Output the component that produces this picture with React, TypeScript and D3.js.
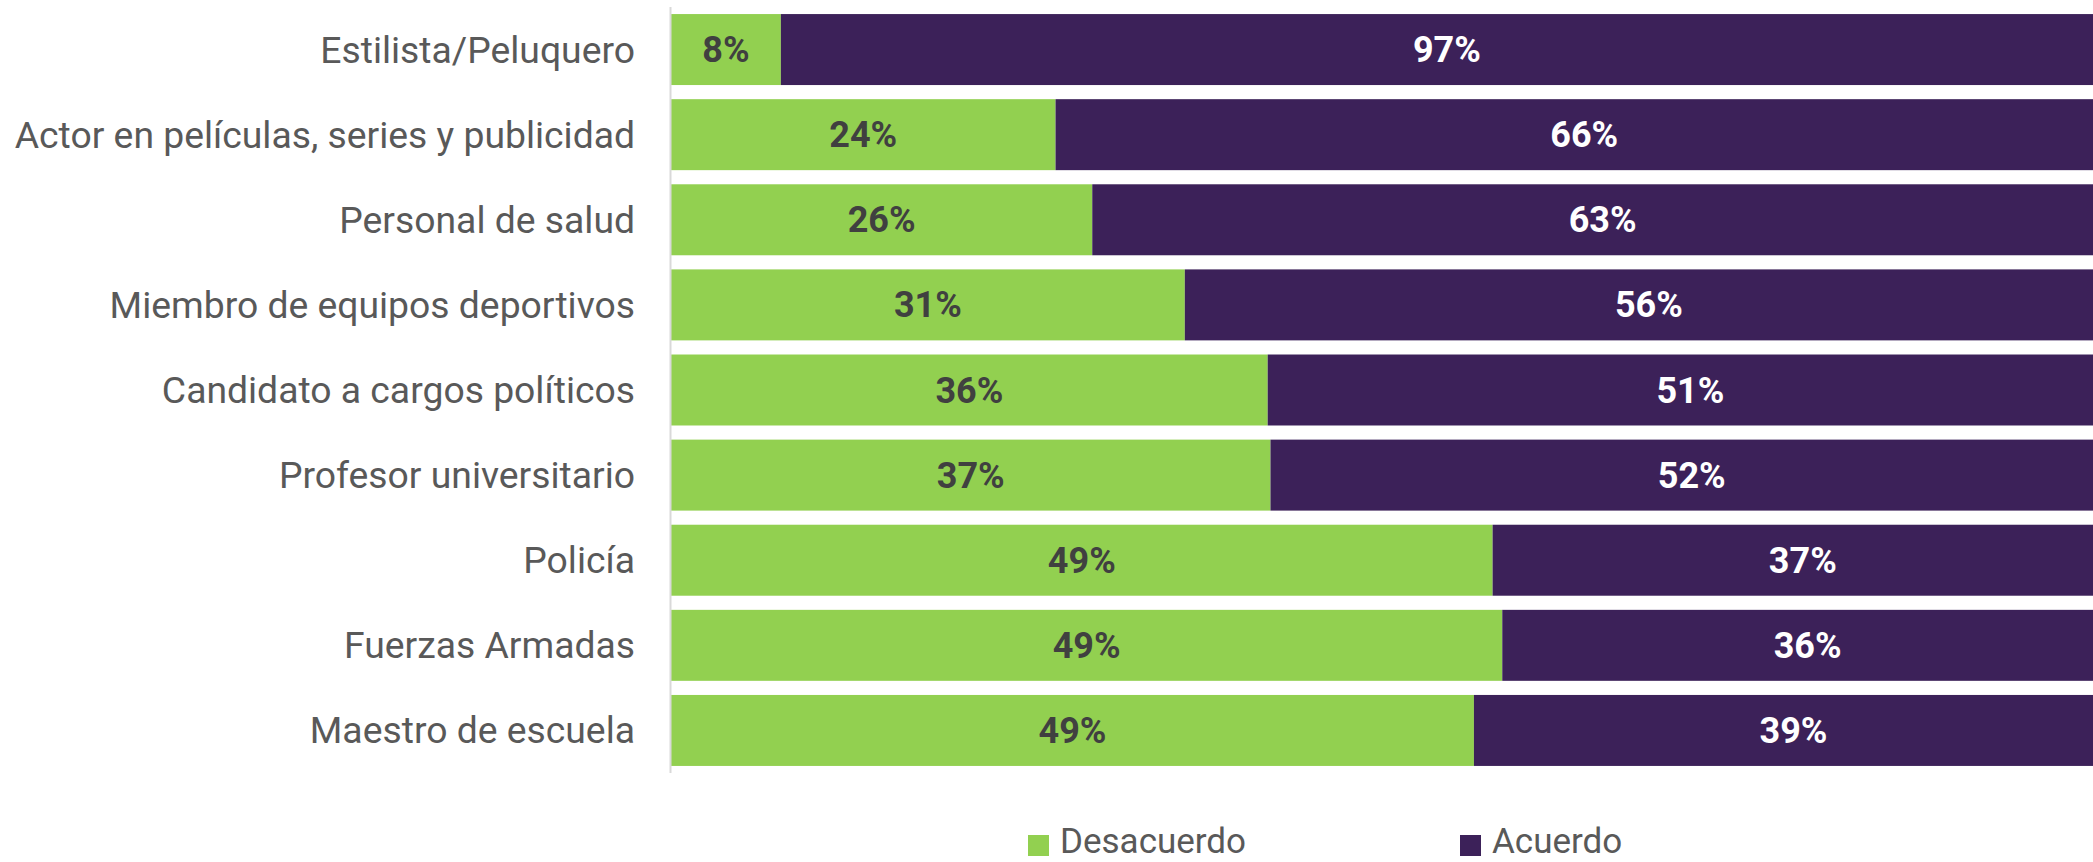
import React from "react";
import * as d3 from "d3";

const categories = [
  "Estilista/Peluquero",
  "Actor en películas, series y publicidad",
  "Personal de salud",
  "Miembro de equipos deportivos",
  "Candidato a cargos políticos",
  "Profesor universitario",
  "Policía",
  "Fuerzas Armadas",
  "Maestro de escuela",
];
const desacuerdo = [8, 24, 26, 31, 36, 37, 49, 49, 49];
const acuerdo = [97, 66, 63, 56, 51, 52, 37, 36, 39];
const seriesNames = ["Desacuerdo", "Acuerdo"];
const seriesColors = ["#92d050", "#3c2159"];
const labelColors = ["#404040", "#ffffff"];

const W = 2093;
const H = 862;

export default function App() {
  const y = d3
    .scaleBand<string>()
    .domain(categories)
    .range([7, 773])
    .paddingInner(0.166)
    .paddingOuter(0.083);
  const x = d3.scaleLinear().domain([0, 1]).range([671, 2113]);

  const rows = categories.map((c, i) => {
    const total = desacuerdo[i] + acuerdo[i];
    const f0 = desacuerdo[i] / total;
    return { c, i, f0, vals: [desacuerdo[i], acuerdo[i]] };
  });

  return (
    <svg
      width={W}
      height={H}
      style={{ position: "absolute", left: 0, top: 0, background: "#fff" }}
      fontFamily="Roboto, 'Noto Sans', sans-serif"
    >
      {rows.map((r) => {
        const y0 = y(r.c)!;
        const bw = y.bandwidth();
        const cy = y0 + bw / 2;
        const segs = [
          [0, r.f0],
          [r.f0, 1],
        ];
        return (
          <g key={r.c}>
            {segs.map((s, k) => (
              <rect
                key={k}
                x={x(s[0])}
                y={y0}
                width={x(s[1]) - x(s[0])}
                height={bw}
                fill={seriesColors[k]}
              />
            ))}
            {segs.map((s, k) => (
              <text
                key={"t" + k}
                x={(x(s[0]) + x(s[1])) / 2}
                y={cy}
                dy="0.35em"
                textAnchor="middle"
                fontWeight="bold"
                fontSize={36}
                fill={labelColors[k]}
              >
                {r.vals[k]}%
              </text>
            ))}
            <text
              x={635}
              y={cy}
              dy="0.35em"
              textAnchor="end"
              fontSize={37.3}
              fill="#595959"
            >
              {r.c}
            </text>
          </g>
        );
      })}
      <line x1={670.5} x2={670.5} y1={7} y2={773} stroke="#d9d9d9" strokeWidth={2} />
      {seriesNames.map((n, k) => {
        const lx = k === 0 ? 1028 : 1460;
        return (
          <g key={n}>
            <rect x={lx} y={835} width={21} height={21} fill={seriesColors[k]} />
            <text x={lx + 32} y={853} fontSize={35} fill="#595959">
              {n}
            </text>
          </g>
        );
      })}
    </svg>
  );
}
